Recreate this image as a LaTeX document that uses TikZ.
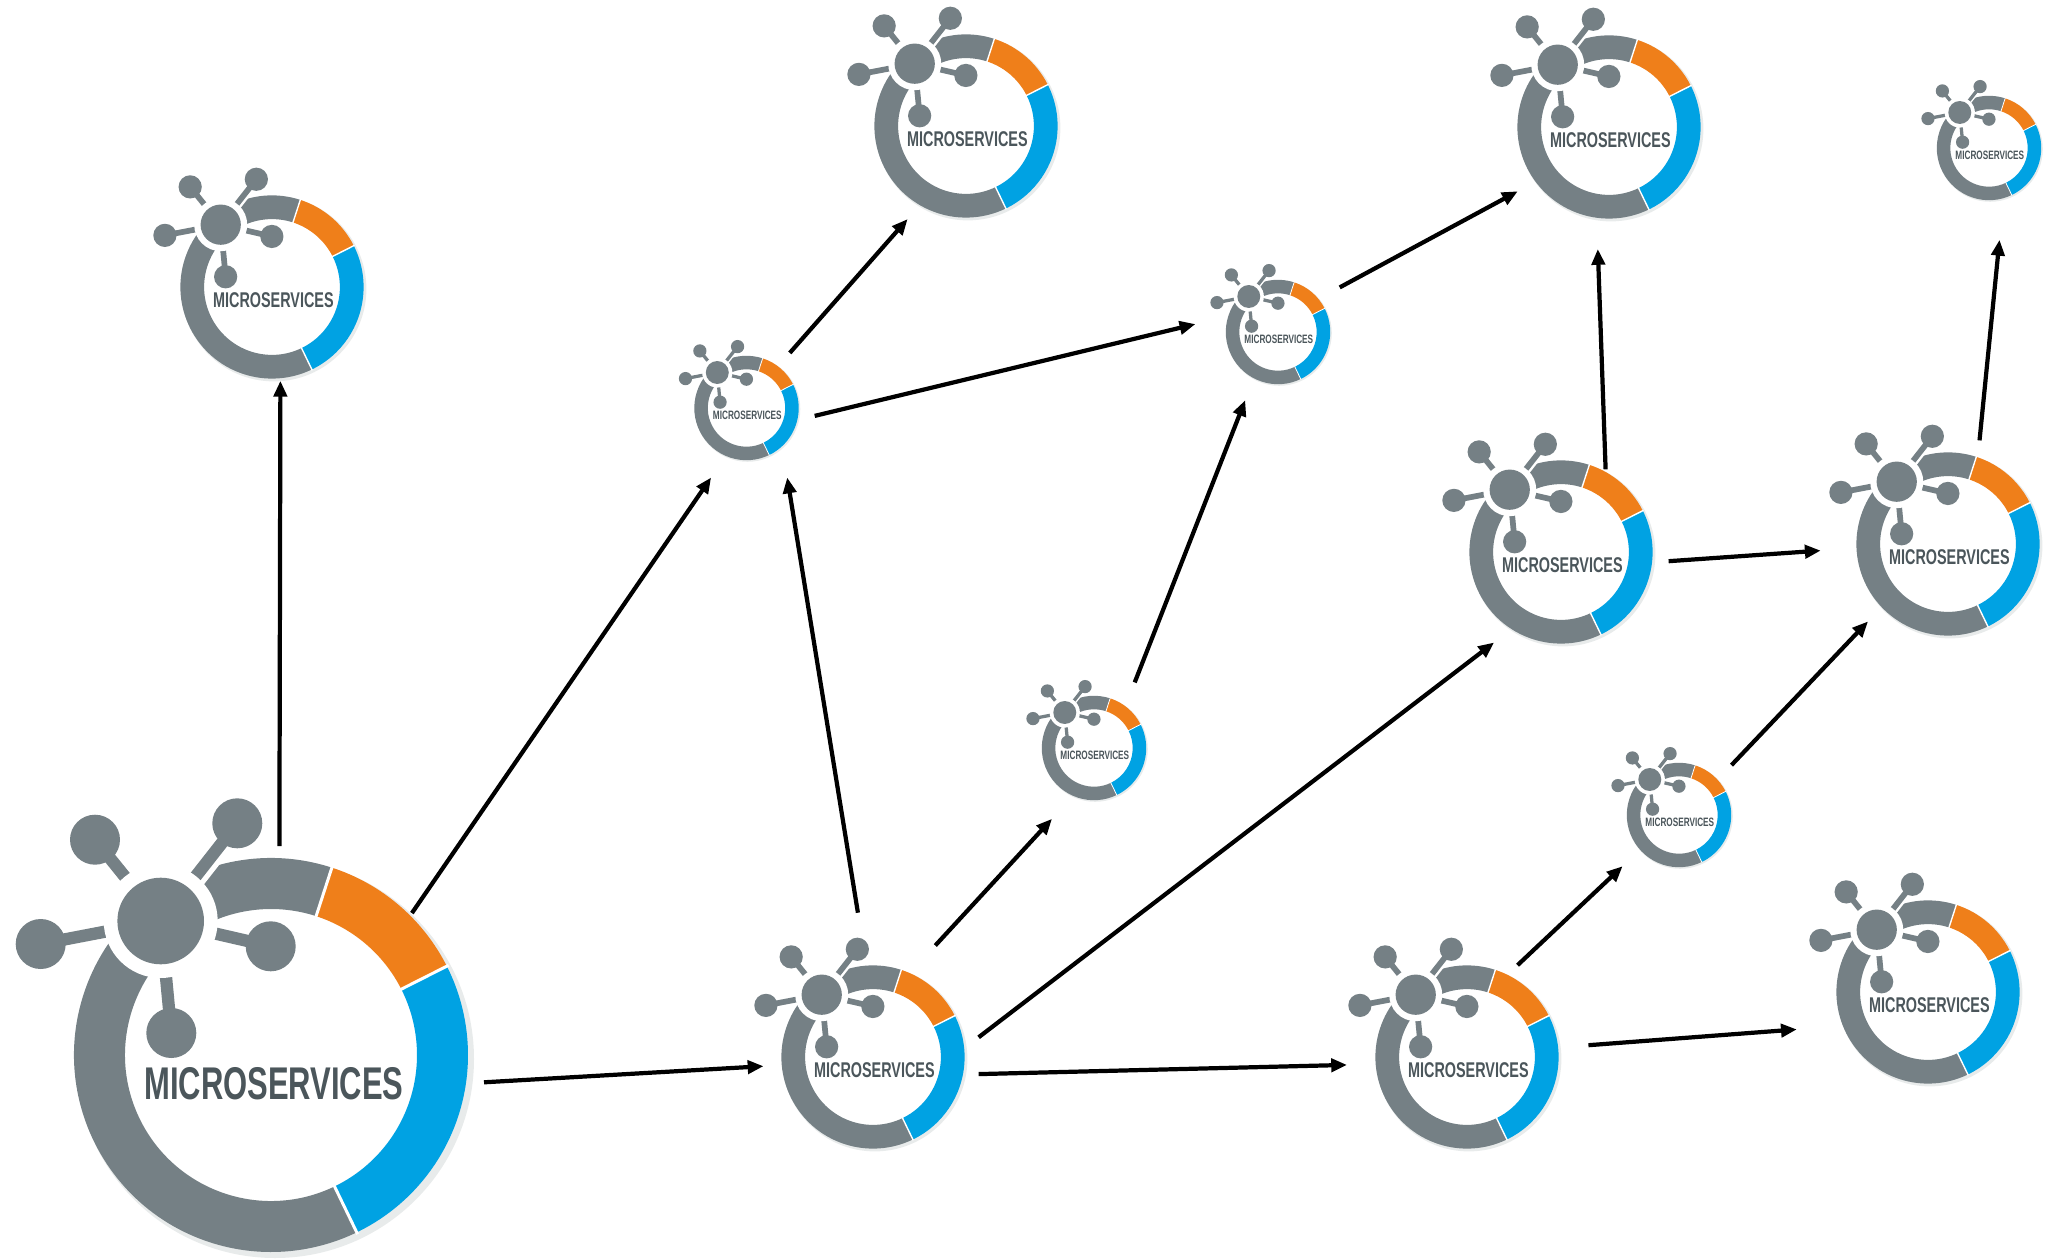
\documentclass[tikz,border=0pt]{standalone}
\usepackage{fontspec}
\usepackage{xcolor}
\usetikzlibrary{arrows.meta}
\newfontfamily\svcfont{Liberation Sans}[FakeStretch=0.675]
\definecolor{ringgrey}{RGB}{117,128,133}
\definecolor{ringblue}{RGB}{0,162,227}
\definecolor{ringorange}{RGB}{239,127,26}
\definecolor{ringshadow}{RGB}{232,235,235}
\definecolor{labelgrey}{RGB}{75,86,91}
\tikzset{
  flow/.style={-{Triangle[length=9pt,width=7.5pt]}, line width=2.4pt, black},
  svcspot/.style={circle, inner sep=0pt, minimum size=2pt},
  svclabel/.style={inner sep=0pt, text=labelgrey}
}
% one logo: name, x, y, scale
\newcommand{\svclogo}[4]{
  \begin{scope}[shift={(#2,#3)}, scale=#4]
    \node[svcspot] (#1) at (0,0) {};
    \fill[ringshadow] (4,-4) circle (199);
    \fill[white] (0,0) circle (150);
    % ring segments
    \foreach \segcolor/\froma/\toa in {ringgrey/72/295.8, ringorange/26.8/72, ringblue/-64.2/26.8} {
      \fill[\segcolor] (\froma:197) arc (\froma:\toa:197) -- (\toa:146) arc (\toa:\froma:146) -- cycle;
    }
    \foreach \sepa in {72, 26.8, -64.2} {
      \draw[white, line width=#4*1.7pt] (\sepa:144) -- (\sepa:199);
    }
    % spokes and hub
    \foreach \sx/\sy in {-176/215.3, -33.7/231.7, -230.3/111, -0.3/108.7, -99.7/22} {
      \draw[white, line width=#4*13pt] (-110.3,134) -- (\sx,\sy);
    }
    \foreach \sx/\sy in {-176/215.3, -33.7/231.7, -230.3/111, -0.3/108.7, -99.7/22} {
      \draw[ringgrey, line width=#4*7pt] (-110.3,134) -- (\sx,\sy);
      \fill[ringgrey] (\sx,\sy) circle (25);
    }
    \fill[white] (-110.3,134) circle (57);
    \fill[ringgrey] (-110.3,134) circle (43.3);
    \pgfmathsetmacro{\svcsize}{26.1*#4}
    \node[svclabel, font=\svcfont\bfseries\fontsize{\svcsize pt}{\svcsize pt}\selectfont] (#1label) at (3,-29) {MICROSERVICES};
  \end{scope}
}

\begin{document}
\begin{tikzpicture}[x=0.2mm, y=0.2mm]
  \useasboundingbox (0,0) rectangle (2057,1258);
  % Logos, y counted from the bottom edge
  \svclogo{svcbig}{271}{203}{1}
  \svclogo{svcup}{272}{971}{0.465}
  \svclogo{svctopa}{966}{1132}{0.465}
  \svclogo{svctopb}{1609}{1131}{0.465}
  \svclogo{svcsa}{746.5}{850}{0.265}
  \svclogo{svcsb}{1278}{926}{0.265}
  \svclogo{svcsc}{1989}{1110}{0.265}
  \svclogo{svcsd}{1094}{510}{0.265}
  \svclogo{svcse}{1679}{443}{0.265}
  \svclogo{svcma}{873}{201}{0.465}
  \svclogo{svcmb}{1467}{201}{0.465}
  \svclogo{svcmc}{1561}{706}{0.465}
  \svclogo{svcmd}{1948}{714}{0.465}
  \svclogo{svcme}{1928}{266}{0.465}
  % Calls between services
  \foreach \from/\fx/\fy/\to/\tx/\ty in {
    svcbig/8.4/208.9/svcup/8.4/-93.8,
    svcbig/140.9/141.9/svcsa/-35.4/-69.5,
    svcbig/213/-27.3/svcma/-109.5/-9.2,
    svcma/-15.1/144.3/svcsa/40.7/-69.5,
    svcma/62.3/111.5/svcsd/-42/-70.8,
    svcma/105.6/19.7/svcmc/-66.9/-90.5,
    svcma/105.6/-17.1/svcmb/-120/-7.9,
    svcsa/43.3/55.1/svctopa/-58.4/-93.1,
    svcsa/68.2/-7.9/svcsb/-82.6/7.9,
    svcsd/40.7/65.6/svcsb/-32.8/-68.2,
    svcsb/61.7/44.6/svctopb/-91.2/-64.3,
    svcmc/44.6/82.6/svctopb/-11.2/-122,
    svcmc/107.6/-9.2/svcmd/-127.3/-6.6,
    svcmd/31.5/103.6/svcsc/10.5/-91.8,
    svcse/52.5/49.9/svcmd/-80/-77.4,
    svcmb/50.5/91.8/svcse/-56.4/-51.2,
    svcmb/121.4/11.8/svcme/-131.2/-37.4} {
    \draw[flow] ([shift={(\fx,\fy)}]\from.center) -- ([shift={(\tx,\ty)}]\to.center);
  }
\end{tikzpicture}
\end{document}
